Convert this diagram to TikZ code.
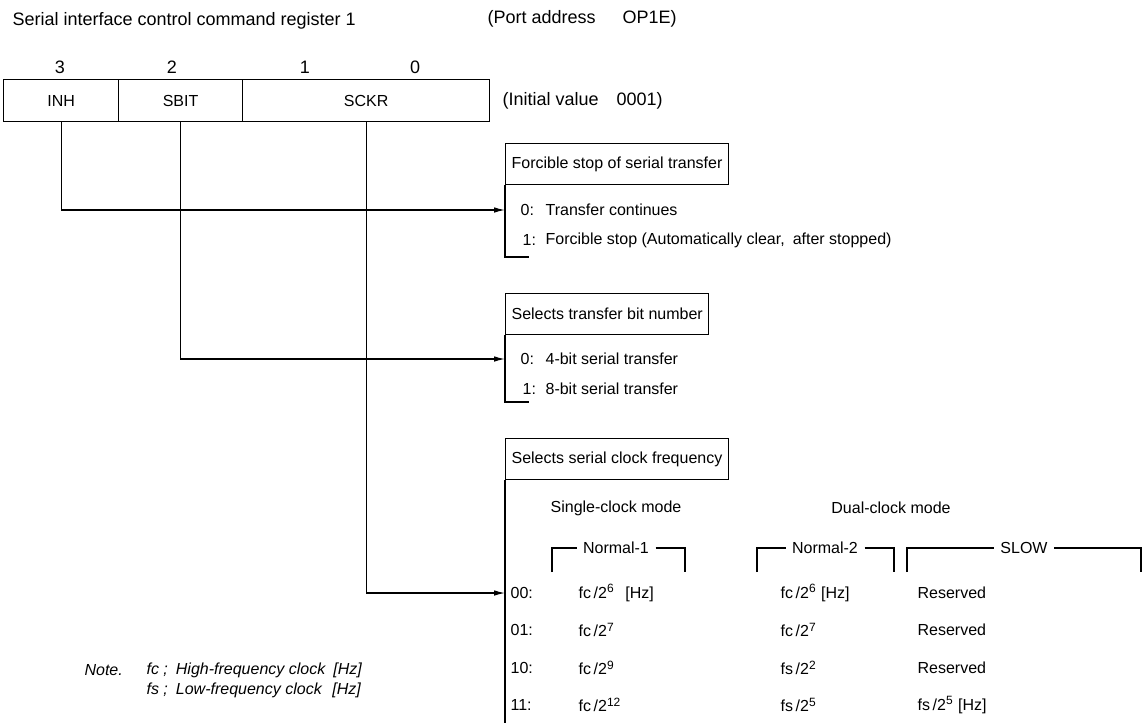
\documentclass[tikz,border=0pt]{standalone}
\usepackage{fontspec}
\setmainfont{Liberation Sans}
\usetikzlibrary{positioning, arrows.meta, calc}

\begin{document}
\begin{tikzpicture}[
  x=0.5pt, y=-0.5pt,
  font=\fontsize{8}{9.6}\selectfont,
  >={Latex[length=5.5pt,width=2.8pt]},
  every path/.style={line width=0.6pt},
  big/.style={font=\fontsize{9}{10.8}\selectfont},
  field/.style={draw=black, anchor=north west, minimum height=21pt, inner sep=0pt},
  hdr/.style={draw=black, anchor=north west, minimum height=20.5pt, inner xsep=3pt},
  txt/.style={anchor=west, inner sep=0pt},
  bitno/.style={big, inner sep=0pt},
  brk/.style={inner xsep=3pt, inner ysep=0pt},
  notetxt/.style={txt, font=\fontsize{8}{9.6}\selectfont\itshape},
]
\useasboundingbox (0,0) rectangle (1145,723);

% title line
\node[txt, big] (title) at (12,21) {Serial interface control command register 1};
\node[txt, big] (port) at (487,19) {(Port address\quad\enspace OP1E)};

% register
\node[bitno] (b3) at (60,67) {3};
\node[bitno] (b2) at (172,67) {2};
\node[bitno] (b1) at (305,67) {1};
\node[bitno] (b0) at (415,67) {0};
\node[field, minimum width=57.5pt] (inh) at (3,79) {INH};
\node[field, minimum width=62pt] (sbit) at (118,79) {SBIT};
\node[field, minimum width=123.5pt] (sckr) at (242,79) {SCKR};
\node[txt, big] (init) at (502,101) {(Initial value\quad 0001)};

% forcible stop
\node[hdr] (stop) at (505,143) {Forcible stop of serial transfer};
\node[txt] (s0) at (520,210) {0:};
\node[txt] (s0t) at (545,210) {Transfer continues};
\node[txt] (s1) at (522,240) {1:};
\node[txt] (s1t) at (545,240)
  {Forcible stop (Automatically clear,\enspace after stopped)};
\coordinate (sEnd) at (505,257);
\draw (stop.south west) -- (sEnd) -- ++(24,0);

% bit number
\node[hdr] (bitn) at (505,293) {Selects transfer bit number};
\node[txt] (n0) at (520,359) {0:};
\node[txt] (n0t) at (545,359) {4-bit serial transfer};
\node[txt] (n1) at (522,389) {1:};
\node[txt] (n1t) at (545,389) {8-bit serial transfer};
\coordinate (nEnd) at (505,402);
\draw (bitn.south west) -- (nEnd) -- ++(24,0);

% serial clock
\node[hdr] (clk) at (505,438) {Selects serial clock frequency};
\coordinate (cEnd) at (505,723);
\draw (clk.south west) -- (cEnd);
\node (single) at (616,508) {Single-clock mode};
\node (dual) at (891,508) {Dual-clock mode};
\node[brk] (nm1) at (616,548) {Normal-1};
\node[brk] (nm2) at (825,548) {Normal-2};
\node[brk] (slow) at (1024,548) {SLOW};
\draw (552,572) |- (nm1.west);
\draw (nm1.east) -| (685,572);
\draw (757,572) |- (nm2.west);
\draw (nm2.east) -| (894,572);
\draw (907,572) |- (slow.west);
\draw (slow.east) -| (1141,572);

\foreach \y/\code/\ca/\cb/\cc in {
  593/00/{fc\,/2\textsuperscript{6}\enspace\,[Hz]}/{fc\,/2\textsuperscript{6} [Hz]}/Reserved,
  630/01/{fc\,/2\textsuperscript{7}}/{fc\,/2\textsuperscript{7}}/Reserved,
  668/10/{fc\,/2\textsuperscript{9}}/{fs\,/2\textsuperscript{2}}/Reserved,
  705/11/{fc\,/2\textsuperscript{12}}/{fs\,/2\textsuperscript{5}}/{fs\,/2\textsuperscript{5} [Hz]}}{
  \node[txt] (r\code) at (510,\y) {\code:};
  \node[txt] at (578,\y) {\ca};
  \node[txt] at (780,\y) {\cb};
  \node[txt] at (917,\y) {\cc};
}

% note
\node[notetxt] (note) at (84,670) {Note.};
\node[notetxt] (nfc) at (146,670) {fc ;\enspace High-frequency clock\enspace[Hz]};
\node[notetxt] (nfs) at (146,690) {fs ;\enspace Low-frequency clock\enspace\,[Hz]};

% connectors
\draw[->] (inh.south) |- (s0 -| stop.west);
\draw[->] (sbit.south) |- (n0 -| bitn.west);
\draw[->] (sckr.south) |- (r00 -| clk.west);
\end{tikzpicture}
\end{document}
